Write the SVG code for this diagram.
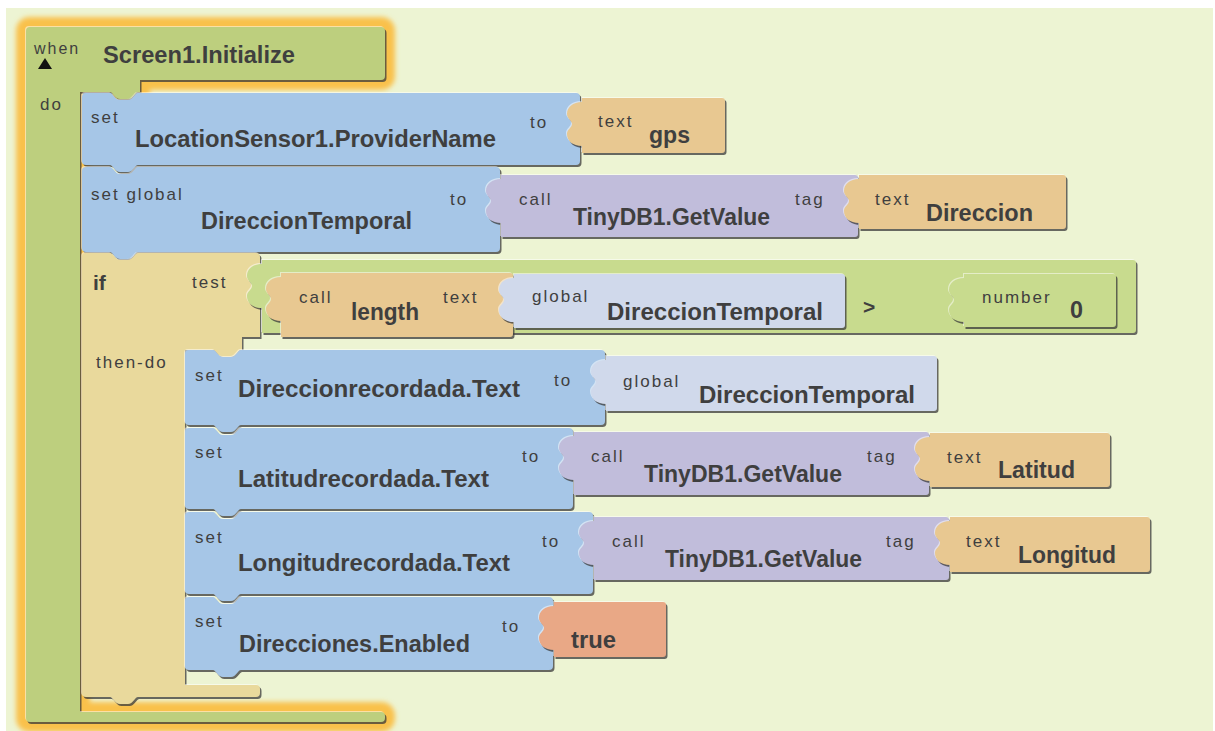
<svg xmlns="http://www.w3.org/2000/svg" xmlns:xlink="http://www.w3.org/1999/xlink" width="1215" height="731" viewBox="0 0 1215 731">
<style>
.sh{fill:#3a3a3a;opacity:.75}
.hl{fill:#ffffff;opacity:.5}
.glow{fill:none;stroke:#F9C14C;stroke-width:20;stroke-linejoin:round}
.when{fill:#BDCF7E}
.blue{fill:#A6C6E7}
.tan{fill:#E9D99C}
.txt{fill:#E8C891}
.purple{fill:#C1BDDB}
.glob{fill:#D0D9EB}
.green{fill:#C8DB8E}
.bool{fill:#E9A886}
text{font-family:"Liberation Sans",Arial,sans-serif;fill:#3f3f3f}
.s{font-size:17px;letter-spacing:2px}
.b{font-size:23px;font-weight:bold}
</style>
<defs>
<filter id="blur" x="-10%" y="-10%" width="120%" height="120%"><feGaussianBlur stdDeviation="2.5"/></filter>
<path id="p-when" d="M 30,27 L 381,27 Q 385,27 385,31 L 385,76 Q 385,80 381,80 L 140,80 L 140,92 L 138,92 C 135,92 133,99 128,99 L 120,99 C 115,99 113,92 110,92 L 80,92 L 80,712 L 381,712 Q 385,712 385,716 L 385,718 Q 385,722 381,722 L 30,722 Q 26,722 26,718 L 26,31 Q 26,27 30,27 Z"/>
<path id="p-b1" d="M 86,93 L 110,93 C 113,93 115,100 120,100 L 128,100 C 133,100 135,93 138,93 L 576,93 Q 580,93 580,97 L 580,161 Q 580,165 576,165 L 138,165 C 135,165 133,172 128,172 L 120,172 C 115,172 113,165 110,165 L 86,165 Q 82,165 82,161 L 82,97 Q 82,93 86,93 Z"/>
<path id="p-gps" d="M 582,98 L 722,98 Q 725,98 725,101 L 725,150 Q 725,153 722,153 L 582,153 L 582,146 C 573,146 567,141 567,134 C 567,129 572,128 572,124 C 572,120 567,119 567,114 C 567,107 573,102 582,102 Z"/>
<path id="p-b2" d="M 86,167 L 110,167 C 113,167 115,174 120,174 L 128,174 C 133,174 135,167 138,167 L 496,167 Q 500,167 500,171 L 500,248 Q 500,252 496,252 L 138,252 C 135,252 133,259 128,259 L 120,259 C 115,259 113,252 110,252 L 86,252 Q 82,252 82,248 L 82,171 Q 82,167 86,167 Z"/>
<path id="p-p1" d="M 501,175 L 855,175 Q 858,175 858,178 L 858,234 Q 858,237 855,237 L 501,237 L 501,223 C 492,223 486,218 486,211 C 486,206 491,205 491,201 C 491,197 486,196 486,191 C 486,184 492,179 501,179 Z"/>
<path id="p-dir" d="M 859,175 L 1063,175 Q 1066,175 1066,178 L 1066,226 Q 1066,229 1063,229 L 859,229 L 859,223 C 850,223 844,218 844,211 C 844,206 849,205 849,201 C 849,197 844,196 844,191 C 844,184 850,179 859,179 Z"/>
<path id="p-if" d="M 86,253 L 110,253 C 113,253 115,260 120,260 L 128,260 C 133,260 135,253 138,253 L 256,253 Q 260,253 260,257 L 260,337 L 242,337 L 242,350 L 241,350 C 238,350 236,357 231,357 L 223,357 C 218,357 216,350 213,350 L 185,350 L 185,685 L 256,685 Q 260,685 260,689 L 260,693 Q 260,697 256,697 L 138,697 C 135,697 133,704 128,704 L 120,704 C 115,704 113,697 110,697 L 86,697 Q 82,697 82,693 L 82,257 Q 82,253 86,253 Z"/>
<path id="p-cmp" d="M 262,260 L 1133,260 Q 1136,260 1136,263 L 1136,330 Q 1136,333 1133,333 L 262,333 L 262,308 C 253,308 247,303 247,296 C 247,291 252,290 252,286 C 252,282 247,281 247,276 C 247,269 253,264 262,264 Z"/>
<path id="p-len" d="M 281,273 L 510,273 Q 513,273 513,276 L 513,334 Q 513,337 510,337 L 281,337 L 281,321 C 272,321 266,316 266,309 C 266,304 271,303 271,299 C 271,295 266,294 266,289 C 266,282 272,277 281,277 Z"/>
<path id="p-g1" d="M 514,274 L 842,274 Q 845,274 845,277 L 845,325 Q 845,328 842,328 L 514,328 L 514,322 C 505,322 499,317 499,310 C 499,305 504,304 504,300 C 504,296 499,295 499,290 C 499,283 505,278 514,278 Z"/>
<path id="p-num" d="M 964,274 L 1113,274 Q 1116,274 1116,277 L 1116,324 Q 1116,327 1113,327 L 964,327 L 964,322 C 955,322 949,317 949,310 C 949,305 954,304 954,300 C 954,296 949,295 949,290 C 949,283 955,278 964,278 Z"/>
<path id="p-b3" d="M 189,350 L 213,350 C 216,350 218,357 223,357 L 231,357 C 236,357 238,350 241,350 L 601,350 Q 605,350 605,354 L 605,421 Q 605,425 601,425 L 241,425 C 238,425 236,432 231,432 L 223,432 C 218,432 216,425 213,425 L 189,425 Q 185,425 185,421 L 185,354 Q 185,350 189,350 Z"/>
<path id="p-g2" d="M 606,356 L 934,356 Q 937,356 937,359 L 937,408 Q 937,411 934,411 L 606,411 L 606,404 C 597,404 591,399 591,392 C 591,387 596,386 596,382 C 596,378 591,377 591,372 C 591,365 597,360 606,360 Z"/>
<path id="p-b4" d="M 189,428 L 213,428 C 216,428 218,435 223,435 L 231,435 C 236,435 238,428 241,428 L 569,428 Q 573,428 573,432 L 573,505 Q 573,509 569,509 L 241,509 C 238,509 236,516 231,516 L 223,516 C 218,516 216,509 213,509 L 189,509 Q 185,509 185,505 L 185,432 Q 185,428 189,428 Z"/>
<path id="p-p2" d="M 574,432 L 926,432 Q 929,432 929,435 L 929,492 Q 929,495 926,495 L 574,495 L 574,480 C 565,480 559,475 559,468 C 559,463 564,462 564,458 C 564,454 559,453 559,448 C 559,441 565,436 574,436 Z"/>
<path id="p-lat" d="M 930,433 L 1107,433 Q 1110,433 1110,436 L 1110,484 Q 1110,487 1107,487 L 930,487 L 930,481 C 921,481 915,476 915,469 C 915,464 920,463 920,459 C 920,455 915,454 915,449 C 915,442 921,437 930,437 Z"/>
<path id="p-b5" d="M 189,512 L 213,512 C 216,512 218,519 223,519 L 231,519 C 236,519 238,512 241,512 L 589,512 Q 593,512 593,516 L 593,590 Q 593,594 589,594 L 241,594 C 238,594 236,601 231,601 L 223,601 C 218,601 216,594 213,594 L 189,594 Q 185,594 185,590 L 185,516 Q 185,512 189,512 Z"/>
<path id="p-p3" d="M 594,517 L 946,517 Q 949,517 949,520 L 949,577 Q 949,580 946,580 L 594,580 L 594,565 C 585,565 579,560 579,553 C 579,548 584,547 584,543 C 584,539 579,538 579,533 C 579,526 585,521 594,521 Z"/>
<path id="p-lon" d="M 950,517 L 1147,517 Q 1150,517 1150,520 L 1150,569 Q 1150,572 1147,572 L 950,572 L 950,565 C 941,565 935,560 935,553 C 935,548 940,547 940,543 C 940,539 935,538 935,533 C 935,526 941,521 950,521 Z"/>
<path id="p-b6" d="M 189,597 L 213,597 C 216,597 218,604 223,604 L 231,604 C 236,604 238,597 241,597 L 549,597 Q 553,597 553,601 L 553,666 Q 553,670 549,670 L 241,670 C 238,670 236,677 231,677 L 223,677 C 218,677 216,670 213,670 L 189,670 Q 185,670 185,666 L 185,601 Q 185,597 189,597 Z"/>
<path id="p-true" d="M 554,602 L 663,602 Q 666,602 666,605 L 666,654 Q 666,657 663,657 L 554,657 L 554,650 C 545,650 539,645 539,638 C 539,633 544,632 544,628 C 544,624 539,623 539,618 C 539,611 545,606 554,606 Z"/>
</defs>

<rect x="0" y="0" width="1215" height="731" fill="#ffffff"/>
<rect x="6" y="8" width="1207" height="723" fill="#EDF4D3"/>

<g id="when-screen1-initialize">
<use xlink:href="#p-when" class="glow" filter="url(#blur)"/>
<use xlink:href="#p-when" class="sh" x="1.5" y="2"/>
<use xlink:href="#p-when" class="hl" x="-1" y="-1"/>
<use xlink:href="#p-when" class="when"/>
<text class="s" x="34" y="54" style="font-size:16px">when</text>
<polygon points="38,69 45,58 52,69" fill="#111"/>
<text class="b" x="103" y="63" textLength="192" lengthAdjust="spacingAndGlyphs">Screen1.Initialize</text>
<text class="s" x="40" y="110">do</text>
</g>

<g id="set-provider">
<use xlink:href="#p-b1" class="sh" x="1.5" y="2"/>
<use xlink:href="#p-b1" class="hl" x="-1" y="-1"/>
<use xlink:href="#p-b1" class="blue"/>
<text class="s" x="91" y="123">set</text>
<text class="b" x="135" y="147" textLength="361" lengthAdjust="spacingAndGlyphs">LocationSensor1.ProviderName</text>
<text class="s" x="530" y="128">to</text>
</g>
<g id="text-gps">
<use xlink:href="#p-gps" class="sh" x="1.5" y="2"/>
<use xlink:href="#p-gps" class="hl" x="-1" y="-1"/>
<use xlink:href="#p-gps" class="txt"/>
<text class="s" x="598" y="127">text</text>
<text class="b" x="649" y="143" textLength="41" lengthAdjust="spacingAndGlyphs">gps</text>
</g>

<g id="set-global">
<use xlink:href="#p-b2" class="sh" x="1.5" y="2"/>
<use xlink:href="#p-b2" class="hl" x="-1" y="-1"/>
<use xlink:href="#p-b2" class="blue"/>
<text class="s" x="91" y="200">set global</text>
<text class="b" x="201" y="229" textLength="211" lengthAdjust="spacingAndGlyphs">DireccionTemporal</text>
<text class="s" x="450" y="205">to</text>
</g>
<g id="call-getvalue-1">
<use xlink:href="#p-p1" class="sh" x="1.5" y="2"/>
<use xlink:href="#p-p1" class="hl" x="-1" y="-1"/>
<use xlink:href="#p-p1" class="purple"/>
<text class="s" x="519" y="205">call</text>
<text class="b" x="573" y="225" textLength="197" lengthAdjust="spacingAndGlyphs">TinyDB1.GetValue</text>
<text class="s" x="795" y="205">tag</text>
</g>
<g id="text-direccion">
<use xlink:href="#p-dir" class="sh" x="1.5" y="2"/>
<use xlink:href="#p-dir" class="hl" x="-1" y="-1"/>
<use xlink:href="#p-dir" class="txt"/>
<text class="s" x="875" y="205">text</text>
<text class="b" x="926" y="221" textLength="107" lengthAdjust="spacingAndGlyphs">Direccion</text>
</g>

<g id="if-block">
<use xlink:href="#p-if" class="sh" x="1.5" y="2"/>
<use xlink:href="#p-if" class="hl" x="-1" y="-1"/>
<use xlink:href="#p-if" class="tan"/>
<text class="b" x="93" y="290" style="font-size:21px">if</text>
<text class="s" x="192" y="288">test</text>
<text class="s" x="96" y="368">then-do</text>
</g>
<g id="compare">
<use xlink:href="#p-cmp" class="sh" x="1.5" y="2"/>
<use xlink:href="#p-cmp" class="hl" x="-1" y="-1"/>
<use xlink:href="#p-cmp" class="green"/>
<text class="b" x="863" y="314" style="font-size:21px">&gt;</text>
</g>
<g id="call-length">
<use xlink:href="#p-len" class="sh" x="1.5" y="2"/>
<use xlink:href="#p-len" class="hl" x="-1" y="-1"/>
<use xlink:href="#p-len" class="txt"/>
<text class="s" x="299" y="303">call</text>
<text class="b" x="351" y="320" textLength="68" lengthAdjust="spacingAndGlyphs">length</text>
<text class="s" x="443" y="303">text</text>
</g>
<g id="global-1">
<use xlink:href="#p-g1" class="sh" x="1.5" y="2"/>
<use xlink:href="#p-g1" class="hl" x="-1" y="-1"/>
<use xlink:href="#p-g1" class="glob"/>
<text class="s" x="532" y="302">global</text>
<text class="b" x="607" y="320" textLength="216" lengthAdjust="spacingAndGlyphs">DireccionTemporal</text>
</g>
<g id="number-0">
<use xlink:href="#p-num" class="sh" x="1.5" y="2"/>
<use xlink:href="#p-num" class="hl" x="-1" y="-1"/>
<use xlink:href="#p-num" class="green"/>
<text class="s" x="982" y="303">number</text>
<text class="b" x="1070" y="318" textLength="13" lengthAdjust="spacingAndGlyphs">0</text>
</g>

<g id="set-direccionrecordada">
<use xlink:href="#p-b3" class="sh" x="1.5" y="2"/>
<use xlink:href="#p-b3" class="hl" x="-1" y="-1"/>
<use xlink:href="#p-b3" class="blue"/>
<text class="s" x="195" y="381">set</text>
<text class="b" x="238" y="397" textLength="282" lengthAdjust="spacingAndGlyphs">Direccionrecordada.Text</text>
<text class="s" x="554" y="386">to</text>
</g>
<g id="global-2">
<use xlink:href="#p-g2" class="sh" x="1.5" y="2"/>
<use xlink:href="#p-g2" class="hl" x="-1" y="-1"/>
<use xlink:href="#p-g2" class="glob"/>
<text class="s" x="623" y="387">global</text>
<text class="b" x="699" y="403" textLength="216" lengthAdjust="spacingAndGlyphs">DireccionTemporal</text>
</g>

<g id="set-latitudrecordada">
<use xlink:href="#p-b4" class="sh" x="1.5" y="2"/>
<use xlink:href="#p-b4" class="hl" x="-1" y="-1"/>
<use xlink:href="#p-b4" class="blue"/>
<text class="s" x="195" y="458">set</text>
<text class="b" x="238" y="487" textLength="251" lengthAdjust="spacingAndGlyphs">Latitudrecordada.Text</text>
<text class="s" x="522" y="462">to</text>
</g>
<g id="call-getvalue-2">
<use xlink:href="#p-p2" class="sh" x="1.5" y="2"/>
<use xlink:href="#p-p2" class="hl" x="-1" y="-1"/>
<use xlink:href="#p-p2" class="purple"/>
<text class="s" x="591" y="462">call</text>
<text class="b" x="644" y="482" textLength="198" lengthAdjust="spacingAndGlyphs">TinyDB1.GetValue</text>
<text class="s" x="867" y="462">tag</text>
</g>
<g id="text-latitud">
<use xlink:href="#p-lat" class="sh" x="1.5" y="2"/>
<use xlink:href="#p-lat" class="hl" x="-1" y="-1"/>
<use xlink:href="#p-lat" class="txt"/>
<text class="s" x="947" y="463">text</text>
<text class="b" x="998" y="478" textLength="77" lengthAdjust="spacingAndGlyphs">Latitud</text>
</g>

<g id="set-longitudrecordada">
<use xlink:href="#p-b5" class="sh" x="1.5" y="2"/>
<use xlink:href="#p-b5" class="hl" x="-1" y="-1"/>
<use xlink:href="#p-b5" class="blue"/>
<text class="s" x="195" y="543">set</text>
<text class="b" x="238" y="571" textLength="272" lengthAdjust="spacingAndGlyphs">Longitudrecordada.Text</text>
<text class="s" x="542" y="547">to</text>
</g>
<g id="call-getvalue-3">
<use xlink:href="#p-p3" class="sh" x="1.5" y="2"/>
<use xlink:href="#p-p3" class="hl" x="-1" y="-1"/>
<use xlink:href="#p-p3" class="purple"/>
<text class="s" x="612" y="547">call</text>
<text class="b" x="665" y="567" textLength="197" lengthAdjust="spacingAndGlyphs">TinyDB1.GetValue</text>
<text class="s" x="886" y="547">tag</text>
</g>
<g id="text-longitud">
<use xlink:href="#p-lon" class="sh" x="1.5" y="2"/>
<use xlink:href="#p-lon" class="hl" x="-1" y="-1"/>
<use xlink:href="#p-lon" class="txt"/>
<text class="s" x="966" y="547">text</text>
<text class="b" x="1018" y="563" textLength="98" lengthAdjust="spacingAndGlyphs">Longitud</text>
</g>

<g id="set-direcciones-enabled">
<use xlink:href="#p-b6" class="sh" x="1.5" y="2"/>
<use xlink:href="#p-b6" class="hl" x="-1" y="-1"/>
<use xlink:href="#p-b6" class="blue"/>
<text class="s" x="195" y="627">set</text>
<text class="b" x="239" y="652" textLength="231" lengthAdjust="spacingAndGlyphs">Direcciones.Enabled</text>
<text class="s" x="502" y="632">to</text>
</g>
<g id="bool-true">
<use xlink:href="#p-true" class="sh" x="1.5" y="2"/>
<use xlink:href="#p-true" class="hl" x="-1" y="-1"/>
<use xlink:href="#p-true" class="bool"/>
<text class="b" x="571" y="648" textLength="45" lengthAdjust="spacingAndGlyphs">true</text>
</g>
</svg>
